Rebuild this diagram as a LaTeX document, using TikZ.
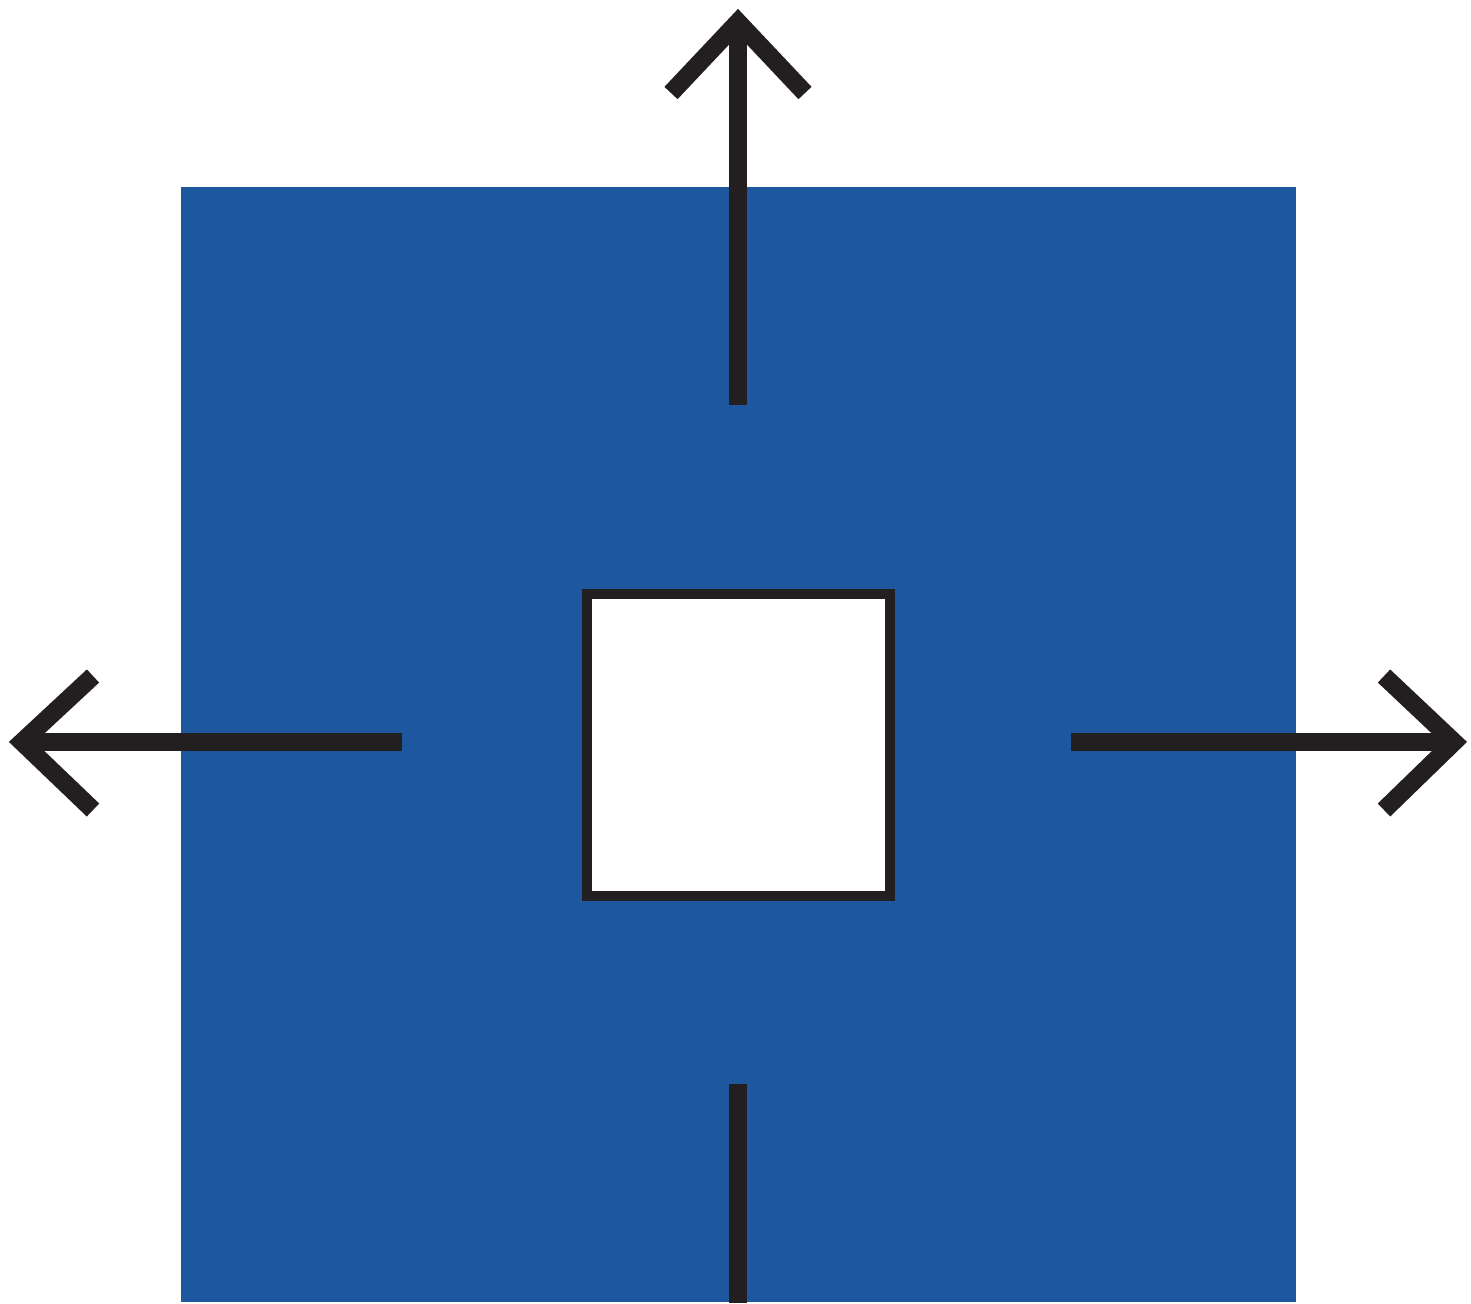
\documentclass[tikz,border=0pt]{standalone}
\usepackage{xcolor}
\usepackage{tikz}
\usetikzlibrary{calc}
\definecolor{panel}{HTML}{1C57A0}
\definecolor{ink}{HTML}{231F20}
\tikzset{
  plate/.style={fill=panel, draw=none},
  hole/.style={fill=white, draw=ink, line width=0.2cm},
  shaft/.style={draw=ink, line width=0.36cm, line cap=butt},
  barb/.style={draw=ink, line width=0.36cm, line cap=butt, line join=miter}
}

\begin{document}
\begin{tikzpicture}[x=0.02cm, y=-0.02cm]
  \useasboundingbox (0,0) rectangle (1471,1303);
  % blue plate and the opening in it
  \fill[plate] (181,187) rectangle (1296,1302);
  \draw[hole] (587,594) rectangle (890,896);
  % shaft ends and arrow tips
  \coordinate (nS) at (738,405);  \coordinate (nT) at (738,22);
  \coordinate (wS) at (402,742);  \coordinate (wT) at (22,742);
  \coordinate (eS) at (1071,742); \coordinate (eT) at (1454,742);
  \coordinate (sS) at (738,1084); \coordinate (sE) at (738,1303);
  \draw[shaft] (nS) -- (nT);
  \draw[shaft] (wS) -- (wT);
  \draw[shaft] (eS) -- (eT);
  \draw[shaft] (sS) -- (sE);
  \draw[barb] ($(nT)+(-67,71)$) -- (nT) -- ($(nT)+(67,71)$);
  \draw[barb] ($(wT)+(71,-66)$) -- (wT) -- ($(wT)+(71,68)$);
  \draw[barb] ($(eT)+(-70,-66)$) -- (eT) -- ($(eT)+(-70,68)$);
\end{tikzpicture}
\end{document}
